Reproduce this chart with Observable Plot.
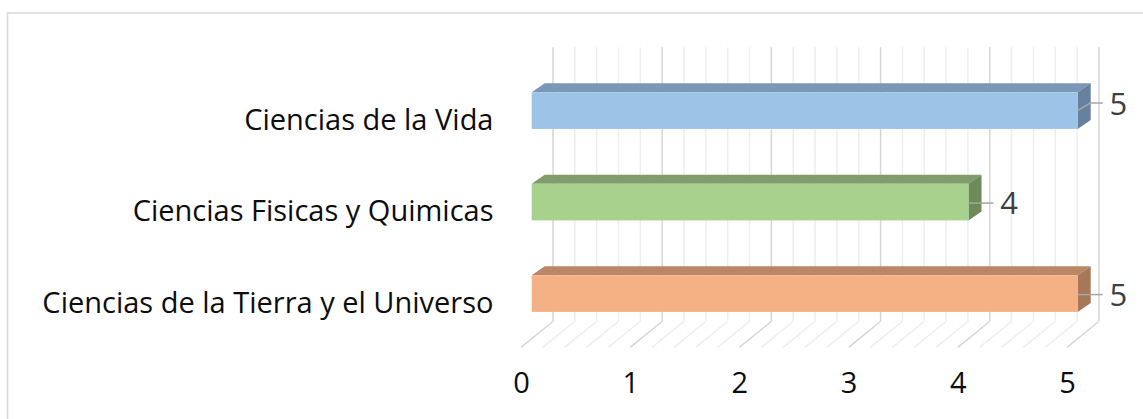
<!DOCTYPE html>
<html><head><meta charset="utf-8">
<script src="https://cdn.jsdelivr.net/npm/d3@7"></script>
<script src="https://cdn.jsdelivr.net/npm/@observablehq/plot@0.6"></script>
<style>
html,body{margin:0;padding:0;background:#fff;}
#chart{position:relative;width:1143px;height:419px;overflow:hidden;}
</style></head><body><div id="chart"></div>
<script>
// ---- data ----
const categories = ["Ciencias de la Vida", "Ciencias Fisicas y Quimicas", "Ciencias de la Tierra y el Universo"];
const values = [5, 4, 5];
const frontColors = ["#9DC3E6", "#A9D18E", "#F4B183"];
const topColors = ["#7A97B7", "#7F9D6B", "#BA8664"];
const sideColors = ["#66819F", "#6D8A59", "#A67758"];
const xTicks = [0, 1, 2, 3, 4, 5];
const minorTicks = [0.2,0.4,0.6,0.8,1.2,1.4,1.6,1.8,2.2,2.4,2.6,2.8,3.2,3.4,3.6,3.8,4.2,4.4,4.6,4.8];

const data = categories.map((c, i) => ({cat: c, value: values[i], front: frontColors[i], top: topColors[i], side: sideColors[i], i}));

// ---- 3D geometry (pixels) ----
const WALL_DX = 31.5, WALL_DY = -17.6, FLOOR_FRONT = 8;
const BAR_DX = 10.7, DEPTH_X = 13, DEPTH_Y = -9;
const MAJOR = "#d6d6d6", MINOR = "#eeeeee";

function border() {
  return d3.create("svg:rect").attr("x", 7.5).attr("y", 13).attr("width", 1300).attr("height", 600)
    .attr("fill", "none").attr("stroke", "#d9d9d9").attr("stroke-width", 1.5).node();
}

function floorLines(index, scales, vals, dim) {
  const x = scales.x;
  const bottom = dim.height - dim.marginBottom;
  const g = d3.create("svg:g").attr("stroke-width", 1.5);
  const all = [...minorTicks.map(t => [t, MINOR]), ...xTicks.map(t => [t, MAJOR])];
  for (const [t, c] of all) {
    g.append("line")
      .attr("x1", x(t) + WALL_DX).attr("y1", bottom + WALL_DY)
      .attr("x2", x(t)).attr("y2", bottom + FLOOR_FRONT)
      .attr("stroke", c);
  }
  return g.node();
}

function barFaces(index, scales) {
  const x = scales.x, y = scales.y;
  const bw = typeof y.bandwidth === "function" ? y.bandwidth() : y.bandwidth;
  const g = d3.create("svg:g");
  for (const d of data) {
    const x0 = x(0) + BAR_DX, x1 = x(d.value) + BAR_DX, y0 = y(d.cat), y1 = y0 + bw;
    g.append("path").attr("fill", d.top)
      .attr("d", `M${x0},${y0}L${x0 + DEPTH_X},${y0 + DEPTH_Y}L${x1 + DEPTH_X},${y0 + DEPTH_Y}L${x1},${y0}Z`);
    g.append("path").attr("fill", d.side)
      .attr("d", `M${x1},${y0}L${x1 + DEPTH_X},${y0 + DEPTH_Y}L${x1 + DEPTH_X},${y1 + DEPTH_Y}L${x1},${y1}Z`);
  }
  return g.node();
}

function leaders(index, scales) {
  const x = scales.x, y = scales.y;
  const bw = typeof y.bandwidth === "function" ? y.bandwidth() : y.bandwidth;
  const g = d3.create("svg:g").attr("stroke", "#a6a6a6").attr("stroke-width", 1.5).attr("fill", "none");
  for (const d of data) {
    const xs = x(d.value) + BAR_DX, cy = y(d.cat) + bw / 2;
    if (d.i === 0) {
      g.append("path").attr("d", `M${xs},${cy}L${xs + 12.5},${cy - 7.5}L${xs + 25},${cy - 7.5}`);
    } else {
      g.append("path").attr("d", `M${xs},${cy + 1}L${xs + 25},${cy + 1}`);
    }
  }
  return g.node();
}

const chart = Plot.plot({
  width: 1143,
  height: 419,
  marginLeft: 521,
  marginRight: 76,
  marginTop: 64.85,
  marginBottom: 79.65,
  style: {fontFamily: "'Open Sans', sans-serif", background: "#fff", overflow: "visible"},
  x: {domain: [0, 5], axis: null},
  y: {domain: categories, range: [64.85, 339.35], paddingInner: 0.6, paddingOuter: 0.3, round: false, axis: null},
  color: {type: "identity"},
  marks: [
    border,
    Plot.ruleX(minorTicks, {x: d => d, stroke: MINOR, strokeWidth: 1.5, dx: WALL_DX, dy: WALL_DY}),
    Plot.ruleX(xTicks, {x: d => d, stroke: MAJOR, strokeWidth: 1.5, dx: WALL_DX, dy: WALL_DY}),
    floorLines,
    barFaces,
    Plot.barX(data, {x: "value", y: "cat", fill: "front", dx: BAR_DX}),
    leaders,
    Plot.text(data, {filter: d => d.i === 0, x: "value", y: "cat", text: d => String(d.value), textAnchor: "start", dx: 42, dy: -6.3, fontSize: 31, fill: "#404040"}),
    Plot.text(data, {filter: d => d.i !== 0, x: "value", y: "cat", text: d => String(d.value), textAnchor: "start", dx: 42, dy: 1.5, fontSize: 31, fill: "#404040"}),
    Plot.text(categories, {y: d => d, frameAnchor: "left", textAnchor: "end", dx: -28, dy: 9.5, fontSize: 29, fill: "#0d0d0d"}),
    Plot.text(xTicks, {x: d => d, frameAnchor: "bottom", dy: 53.5, fontSize: 29, fill: "#0d0d0d"})
  ]
});
document.getElementById("chart").appendChild(chart);
</script></body></html>
